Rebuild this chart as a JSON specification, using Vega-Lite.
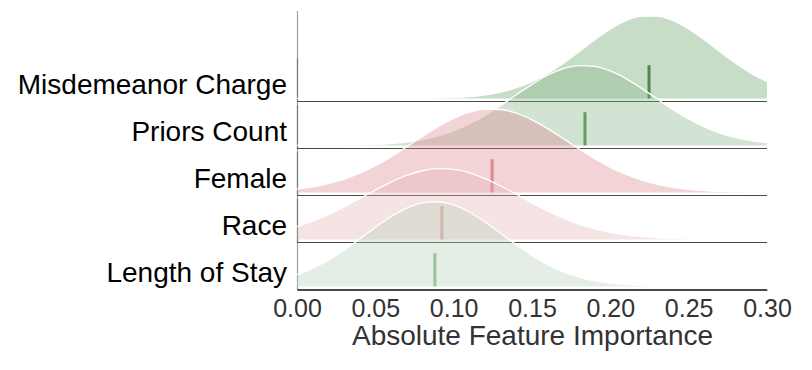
{
  "$schema": "https://vega.github.io/schema/vega-lite/v6.json",
  "background": "white",
  "padding": {"left": 17, "top": 13, "right": 5, "bottom": 5},
  "data": {"values": [
    {"f":"Misdemeanor Charge","x":0.00,"d":0},{"f":"Misdemeanor Charge","x":0.01,"d":0},{"f":"Misdemeanor Charge","x":0.02,"d":0},{"f":"Misdemeanor Charge","x":0.03,"d":0},{"f":"Misdemeanor Charge","x":0.04,"d":0.001},{"f":"Misdemeanor Charge","x":0.05,"d":0.002},{"f":"Misdemeanor Charge","x":0.06,"d":0.004},{"f":"Misdemeanor Charge","x":0.07,"d":0.01},{"f":"Misdemeanor Charge","x":0.08,"d":0.024},{"f":"Misdemeanor Charge","x":0.09,"d":0.054},{"f":"Misdemeanor Charge","x":0.10,"d":0.113},{"f":"Misdemeanor Charge","x":0.11,"d":0.223},{"f":"Misdemeanor Charge","x":0.12,"d":0.417},{"f":"Misdemeanor Charge","x":0.13,"d":0.735},{"f":"Misdemeanor Charge","x":0.14,"d":1.225},{"f":"Misdemeanor Charge","x":0.15,"d":1.93},{"f":"Misdemeanor Charge","x":0.16,"d":2.86},{"f":"Misdemeanor Charge","x":0.17,"d":4.03},{"f":"Misdemeanor Charge","x":0.18,"d":5.35},{"f":"Misdemeanor Charge","x":0.19,"d":6.71},{"f":"Misdemeanor Charge","x":0.20,"d":7.95},{"f":"Misdemeanor Charge","x":0.21,"d":8.90},{"f":"Misdemeanor Charge","x":0.22,"d":9.42},{"f":"Misdemeanor Charge","x":0.23,"d":9.42},{"f":"Misdemeanor Charge","x":0.24,"d":8.90},{"f":"Misdemeanor Charge","x":0.25,"d":7.95},{"f":"Misdemeanor Charge","x":0.26,"d":6.71},{"f":"Misdemeanor Charge","x":0.27,"d":5.35},{"f":"Misdemeanor Charge","x":0.28,"d":4.03},{"f":"Misdemeanor Charge","x":0.29,"d":2.86},{"f":"Misdemeanor Charge","x":0.30,"d":1.93},
    {"f":"Priors Count","x":0.00,"d":0.002},{"f":"Priors Count","x":0.01,"d":0.006},{"f":"Priors Count","x":0.02,"d":0.013},{"f":"Priors Count","x":0.03,"d":0.028},{"f":"Priors Count","x":0.04,"d":0.059},{"f":"Priors Count","x":0.05,"d":0.116},{"f":"Priors Count","x":0.06,"d":0.218},{"f":"Priors Count","x":0.07,"d":0.39},{"f":"Priors Count","x":0.08,"d":0.666},{"f":"Priors Count","x":0.09,"d":1.08},{"f":"Priors Count","x":0.10,"d":1.67},{"f":"Priors Count","x":0.11,"d":2.45},{"f":"Priors Count","x":0.12,"d":3.43},{"f":"Priors Count","x":0.13,"d":4.57},{"f":"Priors Count","x":0.14,"d":5.79},{"f":"Priors Count","x":0.15,"d":6.98},{"f":"Priors Count","x":0.16,"d":8.02},{"f":"Priors Count","x":0.17,"d":8.77},{"f":"Priors Count","x":0.18,"d":9.12},{"f":"Priors Count","x":0.19,"d":9.03},{"f":"Priors Count","x":0.20,"d":8.51},{"f":"Priors Count","x":0.21,"d":7.64},{"f":"Priors Count","x":0.22,"d":6.52},{"f":"Priors Count","x":0.23,"d":5.30},{"f":"Priors Count","x":0.24,"d":4.10},{"f":"Priors Count","x":0.25,"d":3.02},{"f":"Priors Count","x":0.26,"d":2.11},{"f":"Priors Count","x":0.27,"d":1.41},{"f":"Priors Count","x":0.28,"d":0.896},{"f":"Priors Count","x":0.29,"d":0.541},{"f":"Priors Count","x":0.30,"d":0.311},
    {"f":"Female","x":0.00,"d":0.389},{"f":"Female","x":0.01,"d":0.637},{"f":"Female","x":0.02,"d":1.005},{"f":"Female","x":0.03,"d":1.52},{"f":"Female","x":0.04,"d":2.20},{"f":"Female","x":0.05,"d":3.05},{"f":"Female","x":0.06,"d":4.07},{"f":"Female","x":0.07,"d":5.20},{"f":"Female","x":0.08,"d":6.38},{"f":"Female","x":0.09,"d":7.51},{"f":"Female","x":0.10,"d":8.47},{"f":"Female","x":0.11,"d":9.17},{"f":"Female","x":0.12,"d":9.52},{"f":"Female","x":0.13,"d":9.48},{"f":"Female","x":0.14,"d":9.05},{"f":"Female","x":0.15,"d":8.30},{"f":"Female","x":0.16,"d":7.29},{"f":"Female","x":0.17,"d":6.15},{"f":"Female","x":0.18,"d":4.97},{"f":"Female","x":0.19,"d":3.85},{"f":"Female","x":0.20,"d":2.87},{"f":"Female","x":0.21,"d":2.05},{"f":"Female","x":0.22,"d":1.40},{"f":"Female","x":0.23,"d":0.92},{"f":"Female","x":0.24,"d":0.58},{"f":"Female","x":0.25,"d":0.35},{"f":"Female","x":0.26,"d":0.203},{"f":"Female","x":0.27,"d":0.113},{"f":"Female","x":0.28,"d":0.06},{"f":"Female","x":0.29,"d":0.031},{"f":"Female","x":0.30,"d":0.015},
    {"f":"Race","x":0.00,"d":1.46},{"f":"Race","x":0.01,"d":2.08},{"f":"Race","x":0.02,"d":2.83},{"f":"Race","x":0.03,"d":3.71},{"f":"Race","x":0.04,"d":4.67},{"f":"Race","x":0.05,"d":5.64},{"f":"Race","x":0.06,"d":6.56},{"f":"Race","x":0.07,"d":7.32},{"f":"Race","x":0.08,"d":7.85},{"f":"Race","x":0.09,"d":8.09},{"f":"Race","x":0.10,"d":8.01},{"f":"Race","x":0.11,"d":7.62},{"f":"Race","x":0.12,"d":6.96},{"f":"Race","x":0.13,"d":6.11},{"f":"Race","x":0.14,"d":5.16},{"f":"Race","x":0.15,"d":4.18},{"f":"Race","x":0.16,"d":3.26},{"f":"Race","x":0.17,"d":2.44},{"f":"Race","x":0.18,"d":1.75},{"f":"Race","x":0.19,"d":1.21},{"f":"Race","x":0.20,"d":0.803},{"f":"Race","x":0.21,"d":0.512},{"f":"Race","x":0.22,"d":0.313},{"f":"Race","x":0.23,"d":0.185},{"f":"Race","x":0.24,"d":0.104},{"f":"Race","x":0.25,"d":0.057},{"f":"Race","x":0.26,"d":0.03},{"f":"Race","x":0.27,"d":0.015},{"f":"Race","x":0.28,"d":0.007},{"f":"Race","x":0.29,"d":0.003},{"f":"Race","x":0.30,"d":0.001},
    {"f":"Length of Stay","x":0.00,"d":1.34},{"f":"Length of Stay","x":0.01,"d":2.06},{"f":"Length of Stay","x":0.02,"d":2.99},{"f":"Length of Stay","x":0.03,"d":4.13},{"f":"Length of Stay","x":0.04,"d":5.41},{"f":"Length of Stay","x":0.05,"d":6.75},{"f":"Length of Stay","x":0.06,"d":7.98},{"f":"Length of Stay","x":0.07,"d":8.96},{"f":"Length of Stay","x":0.08,"d":9.56},{"f":"Length of Stay","x":0.09,"d":9.68},{"f":"Length of Stay","x":0.10,"d":9.31},{"f":"Length of Stay","x":0.11,"d":8.51},{"f":"Length of Stay","x":0.12,"d":7.38},{"f":"Length of Stay","x":0.13,"d":6.08},{"f":"Length of Stay","x":0.14,"d":4.76},{"f":"Length of Stay","x":0.15,"d":3.54},{"f":"Length of Stay","x":0.16,"d":2.49},{"f":"Length of Stay","x":0.17,"d":1.67},{"f":"Length of Stay","x":0.18,"d":1.06},{"f":"Length of Stay","x":0.19,"d":0.643},{"f":"Length of Stay","x":0.20,"d":0.369},{"f":"Length of Stay","x":0.21,"d":0.201},{"f":"Length of Stay","x":0.22,"d":0.104},{"f":"Length of Stay","x":0.23,"d":0.051},{"f":"Length of Stay","x":0.24,"d":0.024},{"f":"Length of Stay","x":0.25,"d":0.011},{"f":"Length of Stay","x":0.26,"d":0.005},{"f":"Length of Stay","x":0.27,"d":0.002},{"f":"Length of Stay","x":0.28,"d":0.001},{"f":"Length of Stay","x":0.29,"d":0},{"f":"Length of Stay","x":0.30,"d":0},
    {"f":"Misdemeanor Charge","m":0.2247},
    {"f":"Priors Count","m":0.1838},
    {"f":"Female","m":0.1245},
    {"f":"Race","m":0.0925},
    {"f":"Length of Stay","m":0.088}
  ]},
  "facet": {
    "row": {
      "field": "f",
      "type": "nominal",
      "sort": ["Misdemeanor Charge","Priors Count","Female","Race","Length of Stay"],
      "title": null,
      "header": {
        "labelAngle": 0,
        "labelAlign": "left",
        "labelOrient": "left",
        "labelBaseline": "line-top",
        "labelLineHeight": 15,
        "labelFont": "Liberation Sans",
        "labelFontSize": 28,
        "labelColor": "black",
        "labelPadding": 10,
        "labelLimit": 400
      }
    }
  },
  "spacing": 0,
  "bounds": "flush",
  "spec": {
    "width": 470,
    "height": 46.5,
    "layer": [
      {
        "transform": [{"filter": "isValid(datum.d)"}],
        "mark": {"type": "area", "interpolate": "monotone", "fillOpacity": 0.35},
        "encoding": {
          "x": {
            "field": "x", "type": "quantitative",
            "scale": {"domain": [0, 0.3], "nice": false, "zero": false},
            "axis": {
              "title": "Absolute Feature Importance",
              "titleFont": "Liberation Sans", "titleFontSize": 28, "titleFontWeight": "normal", "titleColor": "#333333", "titlePadding": 1,
              "values": [0, 0.05, 0.1, 0.15, 0.2, 0.25, 0.3],
              "format": ".2f",
              "labelFont": "Liberation Sans", "labelFontSize": 25, "labelColor": "#333333", "labelPadding": 6,
              "labelFlush": false, "labelOverlap": false,
              "ticks": false, "grid": false,
              "domainColor": "#4a4a4a", "domainWidth": 1.2
            }
          },
          "y": {
            "field": "d", "type": "quantitative",
            "scale": {"domain": [-0.35, 10.05], "range": [46.5, -44.5], "nice": false, "zero": false},
            "axis": {"title": null, "labels": false, "ticks": false, "grid": false, "domainColor": "#555555", "domainOpacity": 0.55, "domainWidth": 1.2}
          },
          "fill": {
            "field": "f", "type": "nominal", "legend": null,
            "scale": {"domain": ["Misdemeanor Charge","Priors Count","Female","Race","Length of Stay"], "range": ["#629e62","#81af81","#da8189","#e5b2b5","#b2ceb2"]}
          }
        }
      },
      {
        "transform": [{"filter": "isValid(datum.d)"}],
        "mark": {"type": "line", "interpolate": "monotone", "stroke": "white", "strokeWidth": 1.3},
        "encoding": {
          "x": {"field": "x", "type": "quantitative"},
          "y": {"field": "d", "type": "quantitative"}
        }
      },
      {
        "transform": [{"filter": "isValid(datum.m)"}],
        "mark": {"type": "rule", "strokeWidth": 3},
        "encoding": {
          "x": {"field": "m", "type": "quantitative"},
          "y": {"datum": 0},
          "y2": {"datum": 3.8},
          "stroke": {
            "field": "f", "type": "nominal", "legend": null,
            "scale": {"domain": ["Misdemeanor Charge","Priors Count","Female","Race","Length of Stay"], "range": ["#4a8a4a","#5f9f5f","#e0888f","#dcaaac","#98c698"]}
          }
        }
      },
      {
        "transform": [{"filter": "isValid(datum.m)"}],
        "mark": {"type": "rule", "color": "#4a4a4a", "strokeWidth": 1.2},
        "encoding": {
          "x": {"datum": 0},
          "x2": {"datum": 0.3},
          "y": {"datum": -0.35}
        }
      }
    ]
  },
  "config": {
    "view": {"stroke": null},
    "font": "Liberation Sans"
  }
}
